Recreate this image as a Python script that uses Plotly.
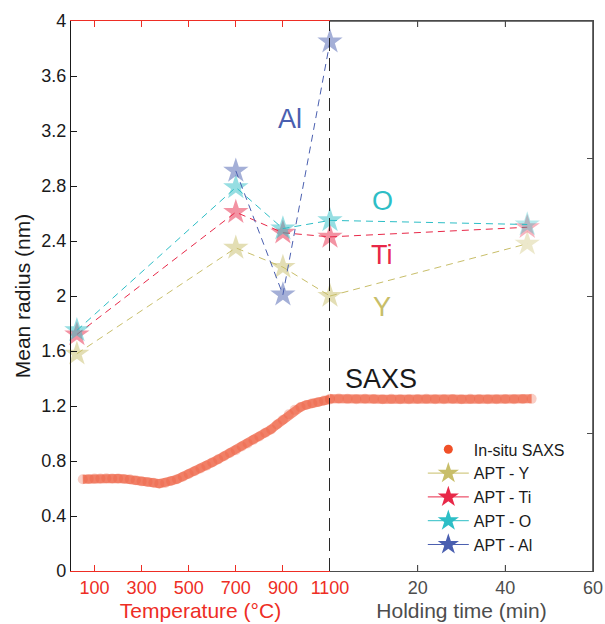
import plotly.graph_objects as go

# ---------------- data ----------------
# In-situ SAXS during heating (temperature, °C) and holding (time, min)
saxs_T = [50, 75, 100, 125, 150, 175, 200, 225, 250, 275, 300, 325, 350, 375, 400,
          425, 450, 475, 500, 525, 550, 575, 600, 625, 650, 675, 700, 725, 750, 775,
          800, 825, 850, 875, 900, 925, 950, 975, 1000, 1025, 1050, 1075, 1100]
saxs_T_r = [0.667, 0.670, 0.672, 0.673, 0.674, 0.673, 0.673, 0.670, 0.667, 0.660,
            0.652, 0.648, 0.642, 0.635, 0.640, 0.655, 0.667, 0.685, 0.705, 0.725,
            0.745, 0.765, 0.790, 0.812, 0.835, 0.858, 0.878, 0.905, 0.928, 0.955,
            0.978, 1.005, 1.030, 1.065, 1.100, 1.140, 1.172, 1.192, 1.208, 1.220,
            1.230, 1.240, 1.248]
saxs_t = [0, 2, 4, 6, 8, 10, 12, 14, 16, 18, 20, 22, 24, 26, 28, 30, 32, 34, 36, 38,
          40, 42, 44, 46]
saxs_t_r = [1.252, 1.255, 1.252, 1.250, 1.253, 1.251, 1.250, 1.252, 1.250, 1.249,
            1.251, 1.252, 1.250, 1.249, 1.251, 1.250, 1.252, 1.251, 1.250, 1.249,
            1.251, 1.250, 1.251, 1.252]

# APT measurements: temperature points, then holding-time point
apt_T = [25, 700, 900, 1100]
apt_time = [0, 45]          # 0 min == end of heating at 1100 °C
apt_Y = [1.58, 2.35, 2.21, 2.00]
apt_Y_hold = 2.38
apt_Ti = [1.72, 2.61, 2.46, 2.43]
apt_Ti_hold = 2.50
apt_O = [1.75, 2.79, 2.49, 2.55]
apt_O_hold = 2.52
apt_Al_T = [700, 900, 1100]
apt_Al = [2.91, 2.01, 3.85]

temp_ticks = [100, 300, 500, 700, 900, 1100]
time_ticks = [20, 40, 60]
y_ticks = [0, 0.4, 0.8, 1.2, 1.6, 2, 2.4, 2.8, 3.2, 3.6, 4]
y_ticktext = ["0", "0.4", "0.8", "1.2", "1.6", "2", "2.4", "2.8", "3.2", "3.6", "4"]

# ---------------- style ----------------
FONT = "Liberation Sans, Arial, Helvetica, sans-serif"
RED = "#ee2d24"
GRAY = "#4d4d4d"
C_SAXS = (240, 80, 40)
C_Y = (200, 190, 105)
C_Ti = (232, 40, 72)
C_O = (45, 190, 198)
C_Al = (74, 95, 176)


def rgba(c, a):
    return f"rgba({c[0]},{c[1]},{c[2]},{a})"


SPLIT = (330 - 71) / (593 - 71)

fig = go.Figure()

# SAXS (dense overlapping dots -> continuous band)
for xs, ys, xa, ya in [(saxs_T, saxs_T_r, "x", "y"), (saxs_t, saxs_t_r, "x2", "y2")]:
    fig.add_trace(go.Scatter(x=xs, y=ys, mode="lines+markers", xaxis=xa, yaxis=ya,
                             line=dict(color="rgba(242,122,96,0.85)", width=9),
                             marker=dict(color="rgba(236,92,62,0.3)", size=10, line=dict(width=0)),
                             cliponaxis=False, showlegend=False))

STAR = 19
DASH = "7px,5px"


def apt(T, vals, hold, col):
    fig.add_trace(go.Scatter(x=T, y=vals, mode="lines+markers", xaxis="x", yaxis="y",
                             line=dict(color=rgba(col, 1), width=1, dash=DASH),
                             marker=dict(symbol="star", size=STAR, color=rgba(col, 0.5),
                                         line=dict(width=0)),
                             cliponaxis=False, showlegend=False))
    if hold is not None:
        fig.add_trace(go.Scatter(x=apt_time, y=[vals[-1], hold], mode="lines+markers",
                                 xaxis="x2", yaxis="y2",
                                 line=dict(color=rgba(col, 1), width=1, dash=DASH),
                                 marker=dict(symbol="star", size=[0, STAR], color=rgba(col, 0.5),
                                             line=dict(width=0)),
                                 cliponaxis=False, showlegend=False))


apt(apt_T, apt_Y, apt_Y_hold, C_Y)
apt(apt_T, apt_Ti, apt_Ti_hold, C_Ti)
apt(apt_T, apt_O, apt_O_hold, C_O)
apt(apt_Al_T, apt_Al, None, C_Al)

# legend entries (full colour)
fig.add_trace(go.Scatter(x=[None], y=[None], mode="markers", name="In-situ SAXS",
                         marker=dict(color=rgba(C_SAXS, 1), size=9)))
for nm, col in [("APT - Y", C_Y), ("APT - Ti", C_Ti), ("APT - O", C_O), ("APT - Al", C_Al)]:
    fig.add_trace(go.Scatter(x=[None], y=[None], mode="lines+markers", name=nm,
                             line=dict(color=rgba(col, 1), width=1),
                             marker=dict(symbol="star", size=16, color=rgba(col, 1))))

# vertical dashed separator
fig.add_shape(type="line", xref="x", yref="y", x0=1100, x1=1100, y0=0, y1=4,
              line=dict(color="#111111", width=1.8, dash="13px,7px"))

# frame of the holding-time panel (paper-referenced, always drawn)
FRAME = "#4a4a4a"
fig.add_shape(type="line", xref="paper", yref="paper", x0=SPLIT, x1=1, y0=1, y1=1,
              line=dict(color=FRAME, width=1.6), layer="above")
fig.add_shape(type="line", xref="paper", yref="paper", x0=1, x1=1, y0=0, y1=1,
              line=dict(color=FRAME, width=1.6), layer="above")
for tv in time_ticks[:-1]:
    for y0, y1 in [(1, 1 - 6 / 550), (0, 6 / 550)]:
        fig.add_shape(type="line", xref="x2", yref="paper", x0=tv, x1=tv, y0=y0, y1=y1,
                      line=dict(color=FRAME, width=1), layer="above")

# labels
ann = [("Al", "x", "y", 930, 3.29, rgba(C_Al, 1)),
       ("O", "x2", "y2", 11.9, 2.69, rgba(C_O, 1)),
       ("Ti", "x2", "y2", 11.8, 2.30, rgba(C_Ti, 1)),
       ("Y", "x2", "y2", 11.8, 1.92, rgba(C_Y, 1)),
       ("SAXS", "x2", "y2", 11.6, 1.40, "#1a1a1a")]
for txt, xr, yr, xx, yy, col in ann:
    fig.add_annotation(text=txt, xref=xr, yref=yr, x=xx, y=yy, showarrow=False,
                       font=dict(family=FONT, size=27, color=col))

fig.update_layout(
    width=605, height=624,
    margin=dict(l=71, r=12, t=21, b=53, autoexpand=False),
    paper_bgcolor="white", plot_bgcolor="rgba(0,0,0,0)",
    font=dict(family=FONT, size=18, color="#1a1a1a"),
    xaxis=dict(domain=[0, SPLIT], range=[0, 1100], anchor="y", automargin=False,
               tickvals=temp_ticks, ticktext=[str(v) for v in temp_ticks],
               ticks="inside", ticklen=6, tickcolor=RED, tickwidth=1,
               showline=True, linecolor=RED, linewidth=1.2, mirror="ticks",
               showgrid=False, zeroline=False,
               tickfont=dict(family=FONT, size=18, color=RED),
               title=dict(text="Temperature (°C)", font=dict(family=FONT, size=21, color=RED),
                          standoff=6)),
    xaxis2=dict(domain=[SPLIT, 1], range=[0, 60], anchor="y2", automargin=False,
                tickvals=time_ticks, ticktext=[str(v) for v in time_ticks],
                ticks="inside", ticklen=6, tickcolor=GRAY, tickwidth=1,
                showline=True, linecolor=GRAY, linewidth=1.4, mirror="ticks",
                showgrid=False, zeroline=False,
                tickfont=dict(family=FONT, size=18, color=GRAY),
                title=dict(text="Holding time (min)", font=dict(family=FONT, size=21, color=GRAY),
                           standoff=6)),
    yaxis=dict(domain=[0, 1], range=[0, 4], anchor="x", automargin=False,
               tickvals=y_ticks, ticktext=y_ticktext,
               ticks="inside", ticklen=6, tickcolor="#1a1a1a",
               showline=True, linecolor="#1a1a1a", linewidth=1.2,
               showgrid=False, zeroline=False,
               tickfont=dict(family=FONT, size=18, color="#1a1a1a"),
               title=dict(text="Mean radius (nm)", font=dict(family=FONT, size=21, color="#1a1a1a"),
                          standoff=4)),
    yaxis2=dict(domain=[0, 1], range=[0, 4], anchor="x2", side="right",
                automargin=False,
                tickvals=[0, 1, 2, 3, 4], ticks="inside", ticklen=6, tickcolor=GRAY,
                showticklabels=False, showline=True, linecolor=GRAY, linewidth=1.4,
                showgrid=False, zeroline=False),
    legend=dict(x=0.674, y=0.252, xanchor="left", yanchor="top",
                bgcolor="rgba(0,0,0,0)", font=dict(family=FONT, size=16, color="#1a1a1a"),
                itemwidth=41, tracegroupgap=0),
)

fig.write_html("out.html")
